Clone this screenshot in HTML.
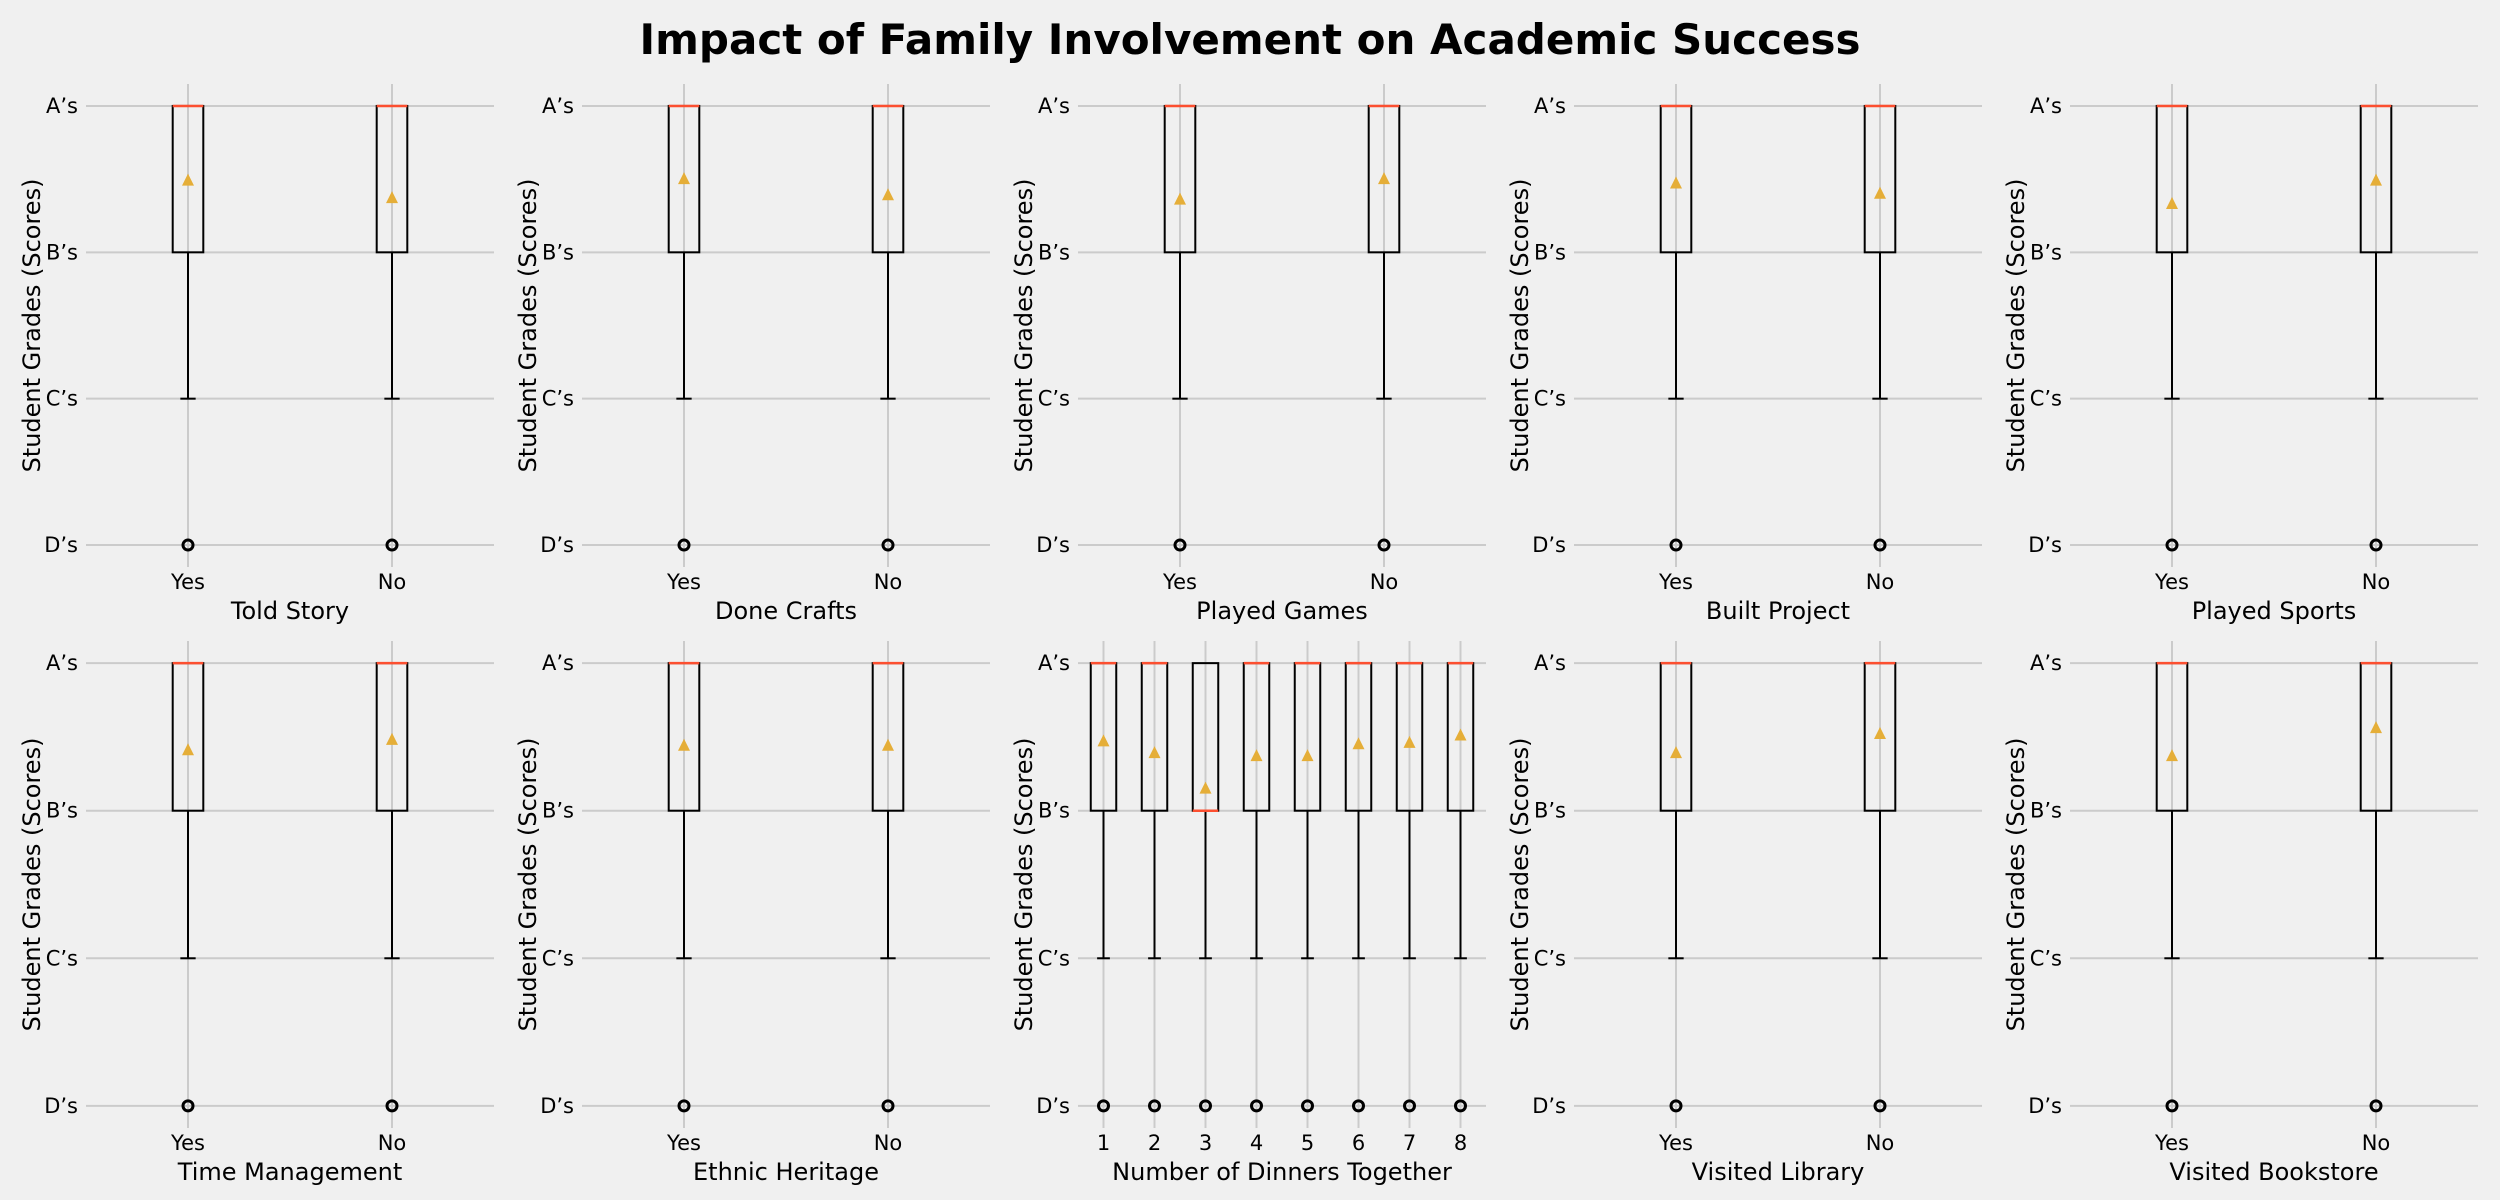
<!DOCTYPE html>
<html><head><meta charset="utf-8"><style>
html,body{margin:0;padding:0;background:#f0f0f0;}
svg{display:block;font-family:"Liberation Sans","DejaVu Sans",sans-serif;}
</style></head><body>
<svg id="chart" width="2500" height="1200" viewBox="0 0 2500 1200" xmlns="http://www.w3.org/2000/svg">
<rect x="0" y="0" width="2500" height="1200" fill="#f0f0f0"/>
<text x="1250" y="54" text-anchor="middle" font-size="42" font-weight="bold" fill="#000" font-family="DejaVu Sans, sans-serif">Impact of Family Involvement on Academic Success</text>
</svg>
<script>
const panelTitles = ["Told Story","Done Crafts","Played Games","Built Project","Played Sports","Time Management","Ethnic Heritage","Number of Dinners Together","Visited Library","Visited Bookstore"];
const yesNo = ["Yes","No"];
const dinnerCats = ["1","2","3","4","5","6","7","8"];
const yTickLabels = ["D’s","C’s","B’s","A’s"];
const yTickValues = [0,1,2,3];
const meansTop = [[2.49,2.37],[2.50,2.39],[2.36,2.50],[2.47,2.40],[2.33,2.49]];
const meansBottom = [[2.41,2.48],[2.44,2.44],[2.47,2.39,2.15,2.37,2.37,2.45,2.46,2.51],[2.39,2.52],[2.37,2.56]];
const q1Dinners = [2,2,2,2,2,2,2,2];
const medianDinners = [3,3,2,3,3,3,3,3];
const q1Default = 2, q3Default = 3, medianDefault = 3, whiskerLow = 1, outlierVal = 0;

const svg = document.getElementById('chart');
const NS = 'http://www.w3.org/2000/svg';
function mk(tag, attrs, parent){const e=document.createElementNS(NS,tag);for(const k in attrs)e.setAttribute(k,attrs[k]);(parent||svg).appendChild(e);return e;}

const panelLeft0 = 86, pitch = 496, panelW = 408;
const rows = [{top:84,bottom:567},{top:641,bottom:1128}];

for(let i=0;i<10;i++){
  const r = Math.floor(i/5), c = i%5;
  const L = panelLeft0 + c*pitch, R = L + panelW;
  const T = rows[r].top, B = rows[r].bottom;
  const isDin = (i===7);
  const cats = isDin ? dinnerCats : yesNo;
  const means = r===0 ? meansTop[c] : meansBottom[c];
  const n = cats.length;
  const xs = v => L + (v - 0.5)/n * panelW;
  const ymin = -0.15, ymax = 3.15;
  const ys = v => B - (v - ymin)/(ymax - ymin)*(B - T);
  const g = mk('g',{});
  
  
  yTickValues.forEach((v,k)=>{
    const gl = mk('line',{x1:L,x2:R,y1:ys(v),y2:ys(v),stroke:'#cbcbcb','stroke-width':2},g);
    
    
    const t = mk('text',{x:L-8,y:ys(v)+7,'text-anchor':'end','font-size':21,fill:'#000','font-family':'DejaVu Sans, sans-serif'},g);
    t.textContent = yTickLabels[k];
    
    
  });
  cats.forEach((cat,k)=>{
    const x = xs(k+1);
    const vl = mk('line',{x1:x,x2:x,y1:T,y2:B,stroke:'#cbcbcb','stroke-width':2},g);
    
    
    const t = mk('text',{x:x,y:B+22,'text-anchor':'middle','font-size':21,fill:'#000','font-family':'DejaVu Sans, sans-serif'},g);
    t.textContent = cat;
    
    
  });
  const wUnits = isDin ? 0.5 : 0.15;
  const bw = wUnits/n*panelW;
  cats.forEach((cat,k)=>{
    const x = xs(k+1);
    const q1 = isDin ? q1Dinners[k] : q1Default;
    const q3 = q3Default;
    const med = isDin ? medianDinners[k] : medianDefault;
    const bg = mk('g',{},g);
    
    
    mk('line',{x1:x,x2:x,y1:ys(q1),y2:ys(whiskerLow),stroke:'#000','stroke-width':2},bg);
    mk('line',{x1:x-bw/4,x2:x+bw/4,y1:ys(whiskerLow),y2:ys(whiskerLow),stroke:'#000','stroke-width':2},bg);
    mk('rect',{x:x-bw/2,y:ys(q3),width:bw,height:ys(q1)-ys(q3),fill:'none',stroke:'#000','stroke-width':2},bg);
    mk('line',{x1:x-bw/2,x2:x+bw/2,y1:ys(med),y2:ys(med),stroke:'#fc4f30','stroke-width':2.5},bg);
    const oc = mk('circle',{cx:x,cy:ys(outlierVal),r:5,fill:'none',stroke:'#000','stroke-width':3},bg);
    
    
    const my = ys(means[k]);
    const tri = mk('polygon',{points:`${x},${my-7} ${x-6},${my+5} ${x+6},${my+5}`,fill:'#e5ae38'},bg);
    
    
  });
  const xl = mk('text',{x:(L+R)/2,y:B+52,'text-anchor':'middle','font-size':24,fill:'#000','font-family':'DejaVu Sans, sans-serif'},g);
  xl.textContent = panelTitles[i];
  
  
  const cy = (T+B)/2;
  const yl = mk('text',{x:0,y:0,'text-anchor':'middle','font-size':24,fill:'#000','font-family':'DejaVu Sans, sans-serif'},g);
  yl.setAttribute('transform',`translate(${L-46},${cy}) rotate(-90)`);
  yl.textContent = 'Student Grades (Scores)';
  
  
}
</script>
</body></html>
